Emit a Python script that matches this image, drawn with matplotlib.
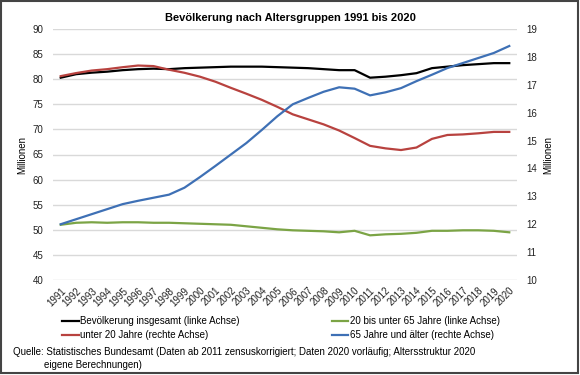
import matplotlib
matplotlib.use("Agg")
import matplotlib.pyplot as plt
from matplotlib.patches import Rectangle

plt.rcParams['font.family'] = ['Liberation Sans', 'DejaVu Sans']

years = list(range(1991, 2021))

# linke Achse (Millionen)
total = [80.3, 81.0, 81.3, 81.5, 81.8, 82.0, 82.1, 82.0, 82.2, 82.3,
         82.4, 82.5, 82.5, 82.5, 82.4, 82.3, 82.2, 82.0, 81.8, 81.8,
         80.3, 80.5, 80.8, 81.2, 82.2, 82.5, 82.8, 83.0, 83.2, 83.2]
age_20_65 = [51.0, 51.4, 51.5, 51.4, 51.5, 51.5, 51.4, 51.4, 51.3, 51.2,
             51.1, 51.0, 50.7, 50.4, 50.1, 49.9, 49.8, 49.7, 49.5, 49.8,
             48.9, 49.1, 49.2, 49.4, 49.8, 49.8, 49.9, 49.9, 49.8, 49.5]

# rechte Achse (Millionen)
under_20 = [17.31, 17.42, 17.51, 17.56, 17.63, 17.69, 17.67, 17.54, 17.43, 17.29,
            17.11, 16.89, 16.68, 16.46, 16.21, 15.94, 15.76, 15.58, 15.36, 15.09,
            14.81, 14.72, 14.66, 14.75, 15.06, 15.20, 15.22, 15.26, 15.31, 15.31]
age_65_plus = [12.00, 12.18, 12.36, 12.54, 12.72, 12.84, 12.95, 13.06, 13.31, 13.69,
               14.09, 14.50, 14.91, 15.38, 15.87, 16.30, 16.53, 16.75, 16.91, 16.86,
               16.62, 16.73, 16.88, 17.13, 17.36, 17.60, 17.78, 17.96, 18.14, 18.39]

c_black = '#000000'
c_green = '#7BA445'
c_red = '#B8423F'
c_blue = '#3E70B5'
fs = 7

fig = plt.figure(figsize=(5.8, 3.75), dpi=100)
ax = fig.add_axes([53/580, 1-280/375, 464/580, 251/375])
ax2 = ax.twinx()

x = list(range(len(years)))
l1, = ax.plot(x, total, color=c_black, lw=1.6, label='Bevölkerung insgesamt (linke Achse)', zorder=3)
l2, = ax.plot(x, age_20_65, color=c_green, lw=1.6, label='20 bis unter 65 Jahre (linke Achse)', zorder=3)
l3, = ax2.plot(x, under_20, color=c_red, lw=1.6, label='unter 20 Jahre (rechte Achse)')
l4, = ax2.plot(x, age_65_plus, color=c_blue, lw=1.6, label='65 Jahre und älter (rechte Achse)')

ax.set_xlim(-0.5, len(years) - 0.5)
ax.set_ylim(40, 90)
ax.set_yticks(range(40, 91, 5))
ax2.set_ylim(10, 19)
ax2.set_yticks(range(10, 20))
ax.set_xticks(x)
ax.set_xticklabels([str(y) for y in years], rotation=45, ha='right',
                   rotation_mode='anchor', fontsize=fs)
ax.grid(axis='y', color='#d9d9d9', lw=1)
ax.set_axisbelow(True)

for a in (ax, ax2):
    for s in a.spines.values():
        s.set_visible(False)
    a.tick_params(length=0, labelsize=fs, colors='#222222')
ax.tick_params(axis='y', pad=7)
ax2.tick_params(axis='y', pad=7)
ax.tick_params(axis='x', pad=4)

ax.set_ylabel('Millionen', fontsize=fs, labelpad=4)
ax2.set_ylabel('Millionen', fontsize=fs, labelpad=4)

fig.text(0.5, 1-18/375, 'Bevölkerung nach Altersgruppen 1991 bis 2020',
         ha='center', va='center', fontsize=8, fontweight='bold')

fig.legend(handles=[l1, l3, l2, l4], ncol=2, loc='upper left',
           bbox_to_anchor=(62/580, 1-316/375), frameon=False, fontsize=fs,
           handlelength=1.7, handletextpad=0.15, columnspacing=9.5,
           labelspacing=0.45, borderpad=0, borderaxespad=0)

fig.text(13/580, 1-352/375,
         'Quelle: Statistisches Bundesamt (Daten ab 2011 zensuskorrigiert; Daten 2020 vorläufig; Altersstruktur 2020',
         ha='left', va='center', fontsize=fs)
fig.text(44/580, 1-365/375, 'eigene Berechnungen)', ha='left', va='center', fontsize=fs)

fig.patches.append(Rectangle((1/580, 2/375), 577/580, 372/375, transform=fig.transFigure,
                             fill=False, edgecolor='#444444', lw=1.5))

fig.savefig('out.png', dpi=100)
